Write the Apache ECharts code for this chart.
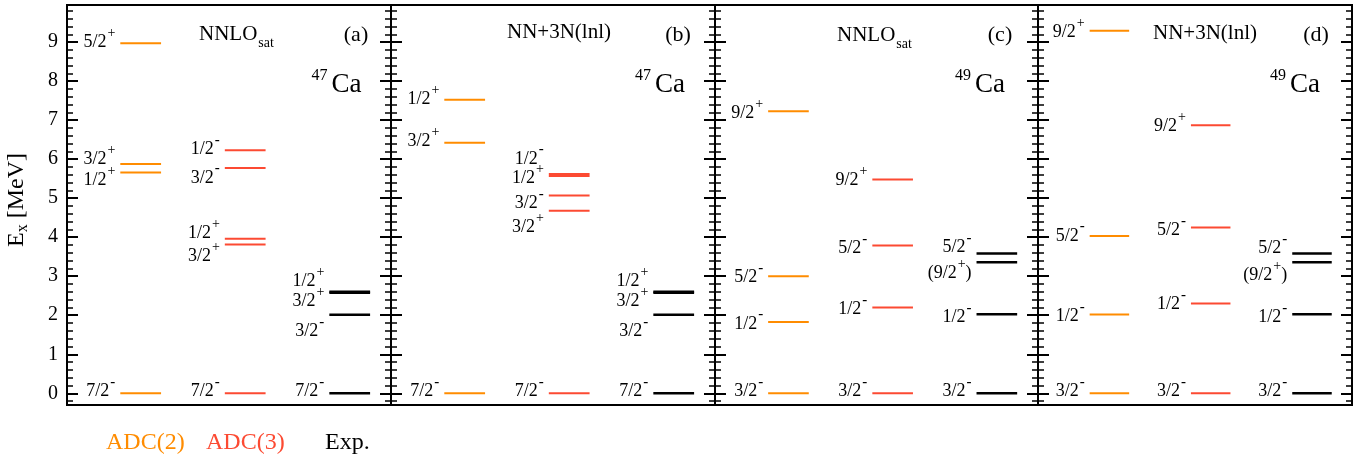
<!DOCTYPE html>
<html><head><meta charset="utf-8">
<script src="https://cdn.jsdelivr.net/npm/echarts@6/dist/echarts.min.js"></script>
<style>html,body{margin:0;padding:0;background:#fff}#c{width:1371px;height:461px}</style>
</head><body><div id="c"></div>
<script>
// ---------------- data ----------------
const columnNames = ['ADC(2)', 'ADC(3)', 'Exp.'];
const panelTags = ['(a)', '(b)', '(c)', '(d)'];
const interactions = ['NNLO_sat', 'NN+3N(lnl)', 'NNLO_sat', 'NN+3N(lnl)'];
const massNumbers = ['47', '47', '49', '49'];
const yTickValues = [0, 1, 2, 3, 4, 5, 6, 7, 8, 9];

// (a) 47Ca, NNLOsat
const a_adc2_E = [0, 5.66, 5.875, 8.97];
const a_adc2_J = ['7/2-', '1/2+', '3/2+', '5/2+'];
const a_adc3_E = [0, 3.81, 3.96, 5.77, 6.23];
const a_adc3_J = ['7/2-', '3/2+', '1/2+', '3/2-', '1/2-'];
// experiment 47Ca
const ca47_exp_E = [0, 2.014, 2.578, 2.599];
const ca47_exp_J = ['7/2-', '3/2-', '3/2+', '1/2+'];

// (b) 47Ca, NN+3N(lnl)
const b_adc2_E = [0, 6.42, 7.52];
const b_adc2_J = ['7/2-', '3/2+', '1/2+'];
const b_adc3_E = [0, 4.68, 5.07, 5.57, 5.62];
const b_adc3_J = ['7/2-', '3/2+', '3/2-', '1/2+', '1/2-'];

// (c) 49Ca, NNLOsat
const c_adc2_E = [0, 1.83, 3.0, 7.23];
const c_adc2_J = ['3/2-', '1/2-', '5/2-', '9/2+'];
const c_adc3_E = [0, 2.20, 3.79, 5.48];
const c_adc3_J = ['3/2-', '1/2-', '5/2-', '9/2+'];
// experiment 49Ca
const ca49_exp_E = [0, 2.023, 3.357, 3.585];
const ca49_exp_J = ['3/2-', '1/2-', '(9/2+)', '5/2-'];

// (d) 49Ca, NN+3N(lnl)
const d_adc2_E = [0, 2.02, 4.03, 9.29];
const d_adc2_J = ['3/2-', '1/2-', '5/2-', '9/2+'];
const d_adc3_E = [0, 2.30, 4.25, 6.87];
const d_adc3_J = ['3/2-', '1/2-', '5/2-', '9/2+'];

// ---------------- layout (label nudges in px, same order as data) ----------------
const shift_a2 = [-2, 8, -5, -1];
const shift_a3 = [-2, 12, -5, 10, -1];
const shift_a_exp = [-2, 17, 9, -11];
const shift_b2 = [-2, -1, -1];
const shift_b3 = [-2, 17, 8, 2, -15];
const shift_b_exp = [-2, 17, 9, -11];
const shift_c2 = [-2, 2, 1, 2];
const shift_c3 = [-2, 2, 3, 1];
const shift_c_exp = [-2, 3, 11, -6];
const shift_d2 = [-2, 2, 0, 2];
const shift_d3 = [-2, 1, 3, 1];
const shift_d_exp = [-2, 3, 13, -5];

const FONT = 'Liberation Serif';
const ORANGE = '#ff8c00';
const RED = '#fc4a32';
const BLACK = '#000000';
const colColors = [ORANGE, RED, BLACK];
const colWidths = [2, 2, 2.5];

const gridBoxes = [
  {left: 67, width: 324},
  {left: 391, width: 324},
  {left: 715, width: 323},
  {left: 1038, width: 314}
];

function isInt(v) { return Math.abs(v - Math.round(v)) < 1e-6; }

function richJ(j) {
  const m = j.match(/^(\(?)([0-9/]+)([+-])(\)?)$/);
  let t = '{n|' + m[1] + m[2] + '}';
  t += m[3] === '+' ? '{s|+}' : '{m|-}';
  if (m[4]) t += '{n|)}';
  return t;
}

// token centre = padding-top + fontSize/2 (tokens aligned to line top)
const LEVEL_RICH = {
  n: {fontFamily: FONT, fontSize: 18, padding: [9, 0, 0, 0], verticalAlign: 'top', fill: '#000'},
  s: {fontFamily: FONT, fontSize: 14, padding: [2, 0, 0, 1], verticalAlign: 'top', fill: '#000'},
  m: {fontFamily: FONT, fontSize: 15, fontWeight: 'bold', padding: [1, 0, 0, 1], verticalAlign: 'top', fill: '#000'}
};
const LEVEL_CENTER = 18;

function levelSeries(gi, col, E, J, shift) {
  const color = colColors[col], lw = colWidths[col];
  const data = E.map((e, i) => [col, e, i]);
  return {
    type: 'custom', xAxisIndex: gi, yAxisIndex: gi * 2, data: data, clip: false, silent: true,
    renderItem: function (params, api) {
      const c = api.value(0), e = api.value(1), i = api.value(2);
      const p0 = api.coord([c + 0.51, e]);
      const p1 = api.coord([c + 0.9, e]);
      return {
        type: 'group', children: [
          {type: 'line', shape: {x1: p0[0], y1: p0[1], x2: p1[0], y2: p1[1]},
           style: {stroke: color, lineWidth: lw}},
          {type: 'text', x: p0[0] - 5, y: p0[1] + shift[i] - LEVEL_CENTER,
           style: {text: richJ(J[i]), align: 'right', verticalAlign: 'top', fill: '#000',
                   font: '18px "' + FONT + '"', rich: LEVEL_RICH}}
        ]
      };
    }
  };
}

const grids = gridBoxes.map(b => ({
  left: b.left, width: b.width, top: 5, height: 400,
  show: true, borderColor: '#000', borderWidth: 2, backgroundColor: 'transparent',
  containLabel: false, outerBoundsMode: 'none'
}));

const xAxes = gridBoxes.map((b, gi) => ({
  gridIndex: gi, type: 'value', min: 0, max: 3.1, show: false
}));

function yAxisFor(gi, pos, withLabels) {
  return {
    gridIndex: gi, type: 'value', position: pos, min: -0.3, max: 9.95,
    minInterval: 1, maxInterval: 1, splitNumber: 10,
    axisLine: {show: true, onZero: false, lineStyle: {color: '#000', width: 2}},
    axisTick: {show: true, inside: true, length: 11, lineStyle: {color: '#000', width: 2}},
    minorTick: {show: true, splitNumber: 5, length: 6, lineStyle: {color: '#000', width: 1.5}},
    splitLine: {show: false},
    minorSplitLine: {show: false},
    axisLabel: {
      show: withLabels, margin: 9, fontFamily: FONT, fontSize: 20, color: '#000',
      formatter: v => (isInt(v) && yTickValues.indexOf(Math.round(v)) >= 0) ? String(Math.round(v)) : ''
    }
  };
}
const yAxes = [];
gridBoxes.forEach((b, gi) => {
  yAxes.push(yAxisFor(gi, 'left', gi === 0));
  yAxes.push(yAxisFor(gi, 'right', false));
});

const series = [
  levelSeries(0, 0, a_adc2_E, a_adc2_J, shift_a2),
  levelSeries(0, 1, a_adc3_E, a_adc3_J, shift_a3),
  levelSeries(0, 2, ca47_exp_E, ca47_exp_J, shift_a_exp),
  levelSeries(1, 0, b_adc2_E, b_adc2_J, shift_b2),
  levelSeries(1, 1, b_adc3_E, b_adc3_J, shift_b3),
  levelSeries(1, 2, ca47_exp_E, ca47_exp_J, shift_b_exp),
  levelSeries(2, 0, c_adc2_E, c_adc2_J, shift_c2),
  levelSeries(2, 1, c_adc3_E, c_adc3_J, shift_c3),
  levelSeries(2, 2, ca49_exp_E, ca49_exp_J, shift_c_exp),
  levelSeries(3, 0, d_adc2_E, d_adc2_J, shift_d2),
  levelSeries(3, 1, d_adc3_E, d_adc3_J, shift_d3),
  levelSeries(3, 2, ca49_exp_E, ca49_exp_J, shift_d_exp)
];

// ---------------- text annotations ----------------
const TITLE_RICH = {
  n: {fontFamily: FONT, fontSize: 21, padding: [0, 0, 0, 0], verticalAlign: 'top', fill: '#000'},
  b: {fontFamily: FONT, fontSize: 14, padding: [13, 0, 0, 1], verticalAlign: 'top', fill: '#000'}
};
const NUC_RICH = {
  s: {fontFamily: FONT, fontSize: 16, padding: [0, 4, 0, 0], verticalAlign: 'top', fill: '#000'},
  n: {fontFamily: FONT, fontSize: 27, padding: [3, 0, 0, 0], verticalAlign: 'top', fill: '#000'}
};
function titleText(name) {
  if (name === 'NNLO_sat') return '{n|NNLO}{b|sat}';
  return '{n|' + name + '}';
}
const titlePos = [
  {x: 199, y: 23.5, align: 'left'},
  {x: 559, y: 22, align: 'center'},
  {x: 837, y: 24.5, align: 'left'},
  {x: 1205, y: 22.5, align: 'center'}
];
const tagX = [356, 678, 1000, 1316];
const nucX = [311.5, 635, 955, 1270];
const legendX = [106, 206, 325];

const graphic = [];
for (let p = 0; p < 4; p++) {
  graphic.push({type: 'text', x: titlePos[p].x, y: titlePos[p].y, silent: true,
    style: {text: titleText(interactions[p]), align: titlePos[p].align, verticalAlign: 'top', rich: TITLE_RICH,
            font: '21px "' + FONT + '"', fill: '#000'}});
  graphic.push({type: 'text', x: tagX[p], y: 35, silent: true,
    style: {text: panelTags[p], align: 'center', verticalAlign: 'middle', font: '22px "' + FONT + '"', fill: '#000'}});
  graphic.push({type: 'text', x: nucX[p], y: 68, silent: true,
    style: {text: '{s|' + massNumbers[p] + '}{n|Ca}', align: 'left', verticalAlign: 'top', rich: NUC_RICH,
            font: '27px "' + FONT + '"', fill: '#000'}});
}
for (let c = 0; c < 3; c++) {
  graphic.push({type: 'text', x: legendX[c], y: 443, silent: true,
    style: {text: columnNames[c], align: 'left', verticalAlign: 'middle', font: '24px "' + FONT + '"', fill: colColors[c]}});
}
graphic.push({type: 'text', x: 18, y: 200, rotation: Math.PI / 2, silent: true,
  style: {text: '{e|E}{x|x}{e| [MeV]}', align: 'center', verticalAlign: 'middle', font: '24px "' + FONT + '"',
    rich: {
      e: {fontFamily: FONT, fontSize: 24, padding: [0, 0, 0, 0], verticalAlign: 'top', fill: '#000'},
      x: {fontFamily: FONT, fontSize: 16, padding: [10, 0, 0, 0], verticalAlign: 'top', fill: '#000'}
    }}});

const chart = echarts.init(document.getElementById('c'), null, {renderer: 'canvas'});
chart.setOption({
  animation: false,
  backgroundColor: '#fff',
  grid: grids,
  xAxis: xAxes,
  yAxis: yAxes,
  series: series,
  graphic: graphic
});
</script>
</body></html>
